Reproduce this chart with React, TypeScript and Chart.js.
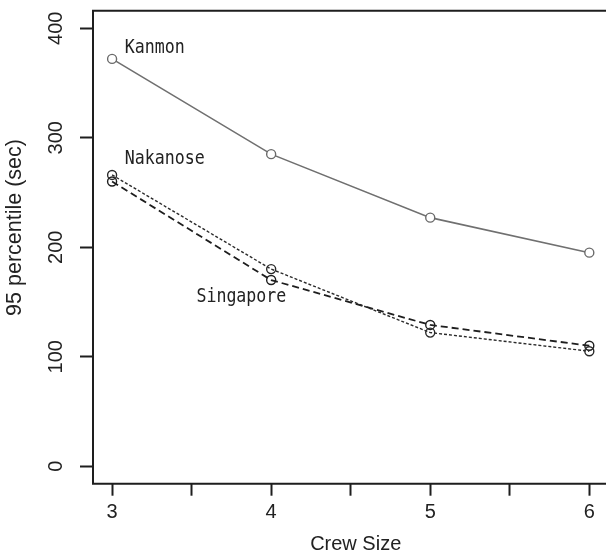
import React, { useEffect, useRef } from 'react';
import { Chart, registerables } from 'chart.js';
Chart.register(...registerables);

const crewSizes = [3, 4, 5, 6];
const kanmon = [372, 285, 227, 195];
const nakanose = [266, 180, 122, 105];
const singapore = [260, 170, 129, 110];
const yTickValues = [0, 100, 200, 300, 400];
const xTickValues = [3, 3.5, 4, 4.5, 5, 5.5, 6];
const xLabelValues = [3, 4, 5, 6];
const seriesLabels = ['Kanmon', 'Nakanose', 'Singapore'];
const seriesLabelX = [3.08, 3.08, 3.53];
const seriesLabelY = [382, 281, 155];
const xTitle = 'Crew Size';
const yTitle = '95 percentile (sec)';

const INK = '#1e1e1e';

const decor = {
  id: 'decor',
  afterDraw(chart: any) {
    const { ctx, chartArea, scales } = chart;
    const { left, top, right, bottom } = chartArea;
    const x = scales.x;
    const y = scales.y;
    ctx.save();
    ctx.strokeStyle = INK;
    ctx.lineWidth = 2;
    ctx.beginPath();
    ctx.moveTo(right + 5, top);
    ctx.lineTo(left, top);
    ctx.lineTo(left, bottom);
    ctx.lineTo(right + 5, bottom);
    ctx.stroke();

    ctx.fillStyle = '#222';
    ctx.font = '20px "Liberation Sans"';
    ctx.textAlign = 'center';
    ctx.textBaseline = 'middle';
    yTickValues.forEach((v) => {
      const py = y.getPixelForValue(v);
      ctx.save();
      ctx.translate(left - 36.5, py);
      ctx.rotate(-Math.PI / 2);
      ctx.fillText(String(v), 0, 0);
      ctx.restore();
    });

    // axis titles
    ctx.font = '20px "Liberation Sans"';
    ctx.textAlign = 'center';
    ctx.textBaseline = 'alphabetic';
    ctx.fillText(xTitle, x.getPixelForValue(4.5) + 5, bottom + 66);

    ctx.save();
    ctx.font = '21.5px "Liberation Sans"';
    ctx.translate(left - 72, y.getPixelForValue(218));
    ctx.rotate(-Math.PI / 2);
    ctx.textBaseline = 'alphabetic';
    ctx.fillText(yTitle, 0, 0);
    ctx.restore();

    ctx.font = '20px "DejaVu Sans Mono"';
    ctx.textAlign = 'left';
    ctx.textBaseline = 'middle';
    seriesLabels.forEach((t, i) => {
      const px = x.getPixelForValue(seriesLabelX[i]);
      const py = y.getPixelForValue(seriesLabelY[i]);
      ctx.save();
      ctx.translate(px, py);
      ctx.scale(0.83, 1);
      ctx.fillText(t, 0, 0);
      ctx.restore();
    });
    ctx.restore();
  },
};

function pts(vals: number[]) {
  return crewSizes.map((c, i) => ({ x: c, y: vals[i] }));
}

export default function App() {
  const ref = useRef<HTMLCanvasElement>(null);
  useEffect(() => {
    if (!ref.current) return;
    const chart = new Chart(ref.current, {
      type: 'line',
      data: {
        datasets: [
          {
            label: 'Kanmon',
            data: pts(kanmon),
            borderColor: '#707070',
            borderWidth: 1.6,
            pointRadius: 4.5,
            pointBorderWidth: 1.4,
            pointBorderColor: '#6a6a6a',
            pointBackgroundColor: '#ffffff',
            tension: 0,
          },
          {
            label: 'Nakanose',
            data: pts(nakanose),
            borderColor: '#2a2a2a',
            borderWidth: 1.4,
            borderDash: [3, 2],
            pointRadius: 4.5,
            pointBorderWidth: 1.4,
            pointBorderColor: '#2a2a2a',
            pointBackgroundColor: 'rgba(0,0,0,0)',
            tension: 0,
          },
          {
            label: 'Singapore',
            data: pts(singapore),
            borderColor: '#1e1e1e',
            borderWidth: 1.8,
            borderDash: [7, 4],
            pointRadius: 4.5,
            pointBorderWidth: 1.4,
            pointBorderColor: '#1e1e1e',
            pointBackgroundColor: 'rgba(0,0,0,0)',
            tension: 0,
          },
        ],
      },
      options: {
        animation: false,
        responsive: false,
        devicePixelRatio: 1,
        layout: { padding: { left: 0, top: 10.7, right: 11.6, bottom: 0 } },
        plugins: { legend: { display: false }, tooltip: { enabled: false } },
        scales: {
          x: {
            type: 'linear',
            min: 2.88,
            max: 6.12,
            afterBuildTicks: (s: any) => {
              s.ticks = xTickValues.map((v) => ({ value: v }));
            },
            afterFit: (s: any) => {
              s.height = 71.3;
            },
            grid: {
              drawOnChartArea: false,
              drawTicks: true,
              tickLength: 12,
              tickWidth: 2,
              tickColor: INK,
            },
            border: { display: false },
            ticks: {
              autoSkip: false,
              maxRotation: 0,
              minRotation: 0,
              padding: 5,
              font: { family: 'Liberation Sans', size: 20 },
              color: '#222',
              callback: (v: any) => (xLabelValues.includes(Number(v)) ? String(v) : ''),
            },
            title: { display: false },
          },
          y: {
            type: 'linear',
            min: -16,
            max: 416,
            afterBuildTicks: (s: any) => {
              s.ticks = yTickValues.map((v) => ({ value: v }));
            },
            afterFit: (s: any) => {
              s.width = 93;
            },
            grid: {
              drawOnChartArea: false,
              drawTicks: true,
              tickLength: 13,
              tickWidth: 2,
              tickColor: INK,
            },
            border: { display: false },
            ticks: { display: false },
            title: { display: false },
          },
        },
      },
      plugins: [decor],
    } as any);
    return () => chart.destroy();
  }, []);
  return (
    <div
      style={{
        position: 'fixed',
        left: 0,
        top: 0,
        width: 606,
        height: 555,
        overflow: 'hidden',
        background: '#fff',
      }}
    >
      <canvas ref={ref} width={620} height={555} style={{ display: 'block', width: 620, height: 555 }} />
    </div>
  );
}
